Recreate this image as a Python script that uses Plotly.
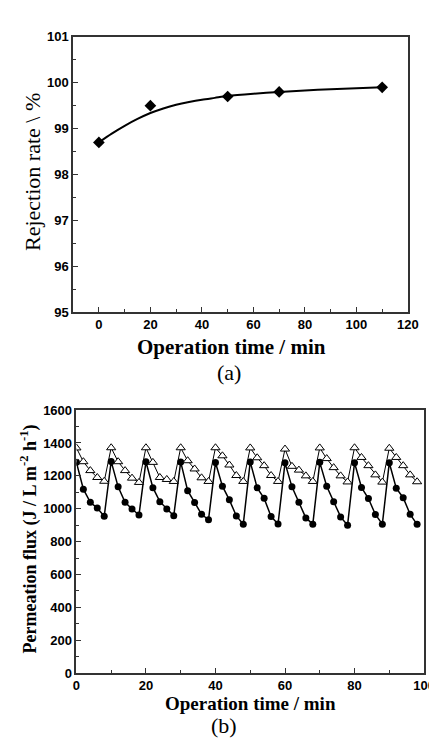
import plotly.graph_objects as go

# ---------------- Panel (a): rejection rate ----------------
rej_time = [0, 20, 50, 70, 110]
rej_rate = [98.7, 99.5, 99.7, 99.8, 99.9]
# fitted curve
fit_time = [0, 5, 10, 15, 20, 25, 30, 35, 40, 45, 50, 60, 70, 80, 90, 100, 110]
fit_rate = [98.70, 98.89, 99.06, 99.21, 99.34, 99.44, 99.52, 99.58, 99.63, 99.67,
            99.71, 99.76, 99.80, 99.83, 99.86, 99.88, 99.90]

# ---------------- Panel (b): permeation flux ----------------
flux_time = [0, 2, 4, 6, 8, 10, 12, 14, 16, 18,
             20, 22, 24, 26, 28, 30, 32, 34, 36, 38,
             40, 42, 44, 46, 48, 50, 52, 54, 56, 58,
             60, 62, 64, 66, 68, 70, 72, 74, 76, 78,
             80, 82, 84, 86, 88, 90, 92, 94, 96, 98]
flux_circle = [1282, 1119, 1039, 1004, 954,
               1288, 1133, 1039, 998, 962,
               1286, 1128, 1043, 998, 957,
               1285, 1110, 1038, 966, 933,
               1281, 1137, 1054, 956, 906,
               1285, 1127, 1063, 952, 907,
               1279, 1133, 1039, 944, 906,
               1282, 1137, 1043, 950, 900,
               1280, 1129, 1062, 965, 906,
               1280, 1125, 1067, 966, 905]
flux_triangle = [1370, 1286, 1232, 1190, 1167,
                 1371, 1286, 1232, 1186, 1160,
                 1371, 1282, 1190, 1178, 1166,
                 1371, 1292, 1242, 1188, 1166,
                 1371, 1322, 1266, 1202, 1166,
                 1370, 1310, 1262, 1202, 1166,
                 1363, 1258, 1235, 1200, 1166,
                 1370, 1305, 1250, 1200, 1163,
                 1371, 1312, 1262, 1206, 1162,
                 1368, 1312, 1262, 1206, 1164]

fig = go.Figure()

fig.add_trace(go.Scatter(x=fit_time, y=fit_rate, mode="lines",
                         line=dict(color="black", width=2, shape="spline", smoothing=0.8),
                         xaxis="x", yaxis="y", showlegend=False))
fig.add_trace(go.Scatter(x=rej_time, y=rej_rate, mode="markers",
                         marker=dict(symbol="diamond", size=9, color="black"),
                         xaxis="x", yaxis="y", showlegend=False))

fig.add_trace(go.Scatter(x=flux_time, y=flux_circle, mode="lines+markers",
                         line=dict(color="black", width=1.5),
                         marker=dict(symbol="circle", size=7, color="black"),
                         xaxis="x2", yaxis="y2", showlegend=False))
fig.add_trace(go.Scatter(x=flux_time, y=flux_triangle, mode="lines+markers",
                         line=dict(color="black", width=1),
                         marker=dict(symbol="triangle-up", size=8, color="white",
                                     line=dict(color="black", width=1)),
                         xaxis="x2", yaxis="y2", showlegend=False))

W, H = 437, 739
axcol = "#333333"
tickfont = dict(family="Liberation Sans, Arial", size=13, color="black", weight="bold")
common = dict(showline=True, linecolor=axcol, linewidth=1.5, mirror=True,
              ticks="inside", ticklen=5, tickwidth=1.2, tickcolor=axcol,
              showgrid=False, zeroline=False, tickfont=tickfont)

fig.update_layout(
    width=W, height=H,
    margin=dict(l=0, r=0, t=0, b=0),
    paper_bgcolor="white", plot_bgcolor="white",
    xaxis=dict(domain=[63.3 / W, 410 / W], range=[-10, 120], tick0=0, dtick=20,
               minor=dict(dtick=10, ticklen=3, ticks="inside", tickcolor=axcol),
               anchor="y", **common),
    yaxis=dict(domain=[1 - 303.3 / H, 1 - 22.3 / H], range=[95, 101], dtick=1,
               minor=dict(dtick=0.5, ticklen=3, ticks="inside", tickcolor=axcol),
               anchor="x", **common),
    xaxis2=dict(domain=[66.7 / W, 426.7 / W], range=[0, 100], tick0=0, dtick=20,
                minor=dict(dtick=10, ticklen=3, ticks="inside", tickcolor=axcol),
                anchor="y2", **common),
    yaxis2=dict(domain=[1 - 671.7 / H, 1 - 403.3 / H], range=[0, 1600], dtick=200,
                minor=dict(dtick=100, ticklen=3, ticks="inside", tickcolor=axcol),
                anchor="x2", **common),
)

serif = "Liberation Serif, Times New Roman, serif"
def ann(text, x, y, size, angle=0, bold=False):
    fig.add_annotation(text=("<b>%s</b>" % text) if bold else text,
                       x=x / W, y=1 - y / H, xref="paper", yref="paper",
                       showarrow=False, textangle=angle,
                       font=dict(family=serif, size=size, color="black"),
                       xanchor="center", yanchor="middle")

ann("Operation time / min", 227, 339, 21, bold=True)
ann("Rejection rate \\ %", 22, 160, 22, angle=-90)
ann("(a)", 225, 365, 22)
ann("Operation time / min", 247, 703, 19, bold=True)
ann("Permeation flux (J / L m<sup>-2</sup> h<sup>-1</sup>)", 18, 535, 18, angle=-90, bold=True)
ann("(b)", 220, 725, 22)

fig.write_html("out.html")
